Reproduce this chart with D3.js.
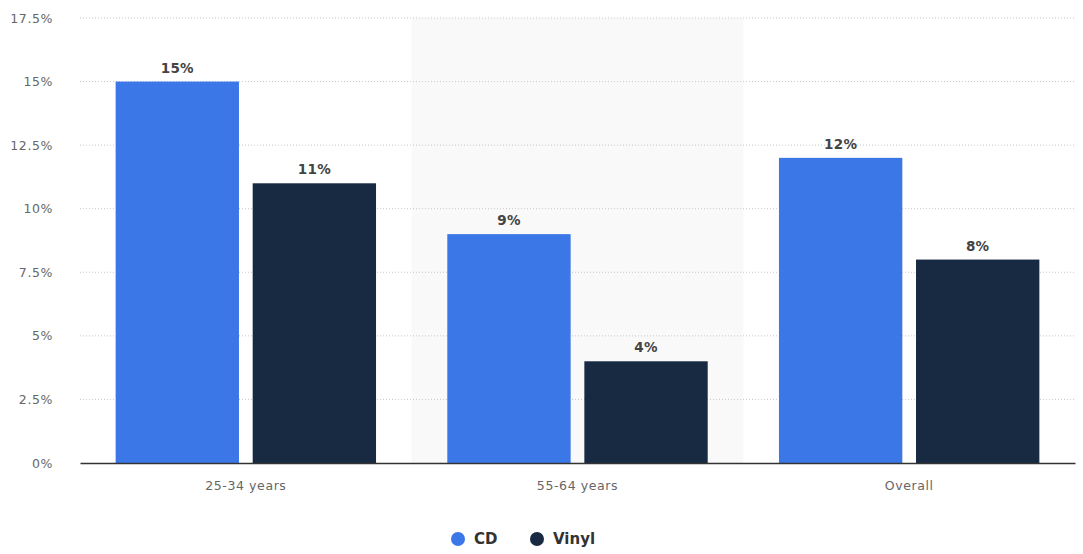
<!DOCTYPE html>
<html>
<head>
<meta charset="utf-8">
<script src="https://cdn.jsdelivr.net/npm/d3@7"></script>
<style>
  body { margin: 0; background: #fff; }
  svg { display: block; font-family: "DejaVu Sans", Verdana, sans-serif; }
</style>
</head>
<body>
<svg width="1083" height="554"></svg>
<script>
document.addEventListener('DOMContentLoaded', () => {
    // chart data
    const categories = ["25-34 years", "55-64 years", "Overall"];
    const seriesNames = ["CD", "Vinyl"];
    const cdValues = [15, 9, 12];
    const vinylValues = [11, 4, 8];
    const yTicks = [0, 2.5, 5, 7.5, 10, 12.5, 15, 17.5];
    const colors = ["#3c77e8", "#172a42"];

    const width = 1083;
    const height = 554;
    const margin = { top: 18, right: 8, bottom: 91, left: 80 };

    const svg = d3.select("svg");

    const x0 = d3.scaleBand()
        .domain(categories)
        .range([margin.left, width - margin.right])
        .paddingInner(0)
        .paddingOuter(0);

    const x1 = d3.scaleBand()
        .domain(seriesNames)
        .range([0, x0.bandwidth()])
        .paddingInner(0.1)
        .paddingOuter(0.26);

    const y = d3.scaleLinear()
        .domain([0, 17.5])
        .range([height - margin.bottom, margin.top]);

    // shaded middle column
    svg.append("rect")
        .attr("x", x0(categories[1]))
        .attr("y", y(17.5))
        .attr("width", x0.bandwidth())
        .attr("height", y(0) - y(17.5))
        .attr("fill", "#f9f9f9");

    // grid lines
    svg.append("g")
        .selectAll("line")
        .data(yTicks.filter(d => d > 0))
        .join("line")
        .attr("x1", margin.left)
        .attr("x2", width - margin.right)
        .attr("y1", d => y(d))
        .attr("y2", d => y(d))
        .attr("stroke", "#c8c8c8")
        .attr("stroke-width", 1)
        .attr("stroke-dasharray", "1,2");

    // y axis labels
    const yAxis = svg.append("g")
        .attr("transform", `translate(${margin.left - 24}, 0)`)
        .call(d3.axisLeft(y).tickValues(yTicks).tickSize(0).tickFormat(d => d + "%"));
    yAxis.select(".domain").remove();
    yAxis.selectAll("text")
        .attr("fill", "#666")
        .attr("font-size", 12.5)
        .attr("letter-spacing", 0.6)
        .attr("font-family", "DejaVu Sans, sans-serif");

    const data = categories.map((c, i) => ({ cat: c, values: [cdValues[i], vinylValues[i]] }));

    const groups = svg.append("g")
        .selectAll("g")
        .data(data)
        .join("g")
        .attr("transform", d => `translate(${x0(d.cat)},0)`);

    groups.selectAll("rect")
        .data(d => d.values.map((v, j) => ({ key: seriesNames[j], value: v, idx: j })))
        .join("rect")
        .attr("x", d => x1(d.key))
        .attr("y", d => y(d.value))
        .attr("width", x1.bandwidth())
        .attr("height", d => y(0) - y(d.value))
        .attr("fill", d => colors[d.idx]);

    groups.selectAll("text")
        .data(d => d.values.map((v, j) => ({ key: seriesNames[j], value: v })))
        .join("text")
        .attr("x", d => x1(d.key) + x1.bandwidth() / 2)
        .attr("y", d => y(d.value) - 9)
        .attr("text-anchor", "middle")
        .attr("font-size", 13.5)
        .attr("font-weight", "bold")
        .attr("letter-spacing", 0.3)
        .attr("fill", "#444")
        .text(d => d.value + "%");

    // x axis
    const xAxis = svg.append("g")
        .attr("transform", `translate(0, ${y(0)})`)
        .call(d3.axisBottom(x0).tickSize(0).tickPadding(18));
    xAxis.select(".domain").attr("stroke", "#333").attr("stroke-width", 1.5);
    xAxis.selectAll("text")
        .attr("fill", "#666")
        .attr("font-size", 12.5)
        .attr("letter-spacing", 0.6)
        .attr("font-family", "DejaVu Sans, sans-serif");

    // legend
    const legendX = [458, 537];
    const legend = svg.append("g")
        .selectAll("g")
        .data(seriesNames)
        .join("g")
        .attr("transform", (d, i) => `translate(${legendX[i]}, 539)`);
    legend.append("circle")
        .attr("r", 7)
        .attr("fill", (d, i) => colors[i]);
    legend.append("text")
        .attr("x", 16)
        .attr("dy", "0.35em")
        .attr("font-size", 15)
        .attr("font-weight", "bold")
        .attr("fill", "#333")
        .text(d => d);
});
</script>
</body>
</html>
